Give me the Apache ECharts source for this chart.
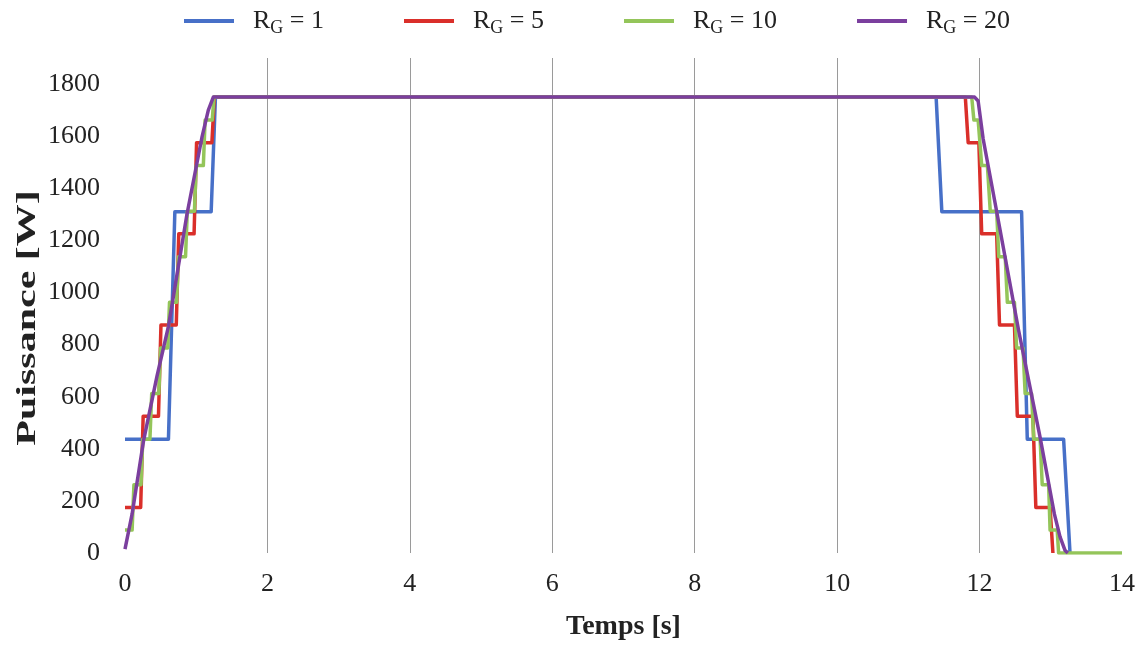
<!DOCTYPE html>
<html>
<head>
<meta charset="utf-8">
<script src="https://cdn.jsdelivr.net/npm/echarts@6/dist/echarts.min.js"></script>
<style>html,body{margin:0;padding:0;background:#fff}#c{width:1141px;height:647px}</style>
</head>
<body>
<div id="c"></div>
<script>
// Series names
var seriesNames = ['RG = 1', 'RG = 5', 'RG = 10', 'RG = 20'];
var legendSuffix = [' = 1', ' = 5', ' = 10', ' = 20'];
// Tick labels
var xTicks = [0, 2, 4, 6, 8, 10, 12, 14];
var yTicks = [0, 200, 400, 600, 800, 1000, 1200, 1400, 1600, 1800];

// [time s, power W]
var rg1 = [[0,437],[0.61,437],[0.70,1310],[1.21,1310],[1.27,1750],[11.39,1750],[11.47,1310],[12.59,1310],[12.67,437],[13.18,437],[13.27,0]];
var rg5 = [[0,175],[0.22,175],[0.255,525],[0.47,525],[0.505,875],[0.72,875],[0.755,1225],[0.97,1225],[1.005,1575],[1.22,1575],[1.255,1750],
           [11.80,1750],[11.84,1575],[11.99,1575],[12.03,1225],[12.24,1225],[12.28,875],[12.49,875],[12.53,525],[12.75,525],[12.79,175],[12.99,175],[13.03,0]];
var rg10 = [[0,88],[0.1,88],[0.125,262],[0.225,262],[0.25,437],[0.35,437],[0.375,612],[0.475,612],[0.5,787],[0.6,787],[0.625,962],[0.725,962],
            [0.75,1137],[0.85,1137],[0.875,1312],[0.975,1312],[1.0,1487],[1.1,1487],[1.125,1662],[1.225,1662],[1.25,1750],
            [11.89,1750],[11.92,1662],[11.98,1662],[12.03,1487],[12.11,1487],[12.15,1312],[12.24,1312],[12.27,1137],[12.36,1137],
            [12.39,962],[12.49,962],[12.52,787],[12.61,787],[12.64,612],[12.73,612],[12.76,437],[12.85,437],[12.88,262],[12.97,262],
            [12.99,88],[13.09,88],[13.11,0],[14,0]];
var rg20 = [[0,15],[0.1,150],[0.26,430],[0.45,680],[0.61,870],[0.87,1300],[1.08,1595],[1.17,1700],[1.24,1750],
            [11.93,1750],[11.98,1735],[12.05,1590],[12.24,1311],[12.55,852],[12.85,444],[13.05,150],[13.13,62],[13.2,10],[13.24,0]];

var colors = ['#4770C8', '#DA2F2A', '#94C55A', '#7B3F9E'];
var dataList = [rg1, rg5, rg10, rg20];

var chart = echarts.init(document.getElementById('c'), null, {renderer: 'canvas'});
var FONT = '"Liberation Serif", "Times New Roman", serif';

var series = dataList.map(function (d, i) {
  return {
    name: seriesNames[i], type: 'line', data: d, showSymbol: false, symbol: 'none',
    lineStyle: {width: 3.5, color: colors[i], join: 'round'}, itemStyle: {color: colors[i]},
    animation: false
  };
});

chart.setOption({
  backgroundColor: '#fff',
  animation: false,
  grid: {left: 125, right: 19, top: 58, bottom: 94},
  legend: {
    left: 179, top: 3, icon: 'rect', itemWidth: 50, itemHeight: 4, itemGap: 80,
    data: seriesNames,
    formatter: function (name) {
      var i = seriesNames.indexOf(name);
      return '{r|R}{g|G}{r|' + legendSuffix[i] + '}';
    },
    textStyle: {
      fontFamily: FONT, color: '#222', padding: [0, 0, 0, 14],
      rich: {
        r: {fontFamily: FONT, fontSize: 26, color: '#222', lineHeight: 32, verticalAlign: 'middle'},
        g: {fontFamily: FONT, fontSize: 18, color: '#222', lineHeight: 18, verticalAlign: 'bottom', padding: [8, 0, 0, 0]}
      }
    }
  },
  xAxis: {
    type: 'value', min: 0, max: 14, interval: 2,
    name: 'Temps [s]', nameLocation: 'middle', nameGap: 60,
    nameTextStyle: {fontFamily: FONT, fontSize: 28, fontWeight: 'bold', color: '#222'},
    axisLine: {show: false}, axisTick: {show: false},
    axisLabel: {fontFamily: FONT, fontSize: 26, color: '#222', margin: 18,
      formatter: function (v) { return xTicks.indexOf(v) >= 0 ? String(v) : ''; }},
    splitLine: {show: true, showMinLine: false, showMaxLine: false, lineStyle: {color: '#9a9a9a', width: 1}}
  },
  yAxis: {
    type: 'value', min: 0, max: 1900, interval: 200,
    axisLine: {show: false}, axisTick: {show: false}, splitLine: {show: false},
    axisLabel: {fontFamily: FONT, fontSize: 26, color: '#222', margin: 25, showMaxLabel: false,
      formatter: function (v) { return yTicks.indexOf(v) >= 0 ? String(v) : ''; }}
  },
  graphic: [{
    type: 'text', x: 28, y: 318, rotation: Math.PI / 2, scaleX: 1.5,
    style: {text: 'Puissance [W]', font: 'bold 28px ' + FONT, fill: '#222', align: 'center', verticalAlign: 'middle'}
  }],
  series: series
});
</script>
</body>
</html>
